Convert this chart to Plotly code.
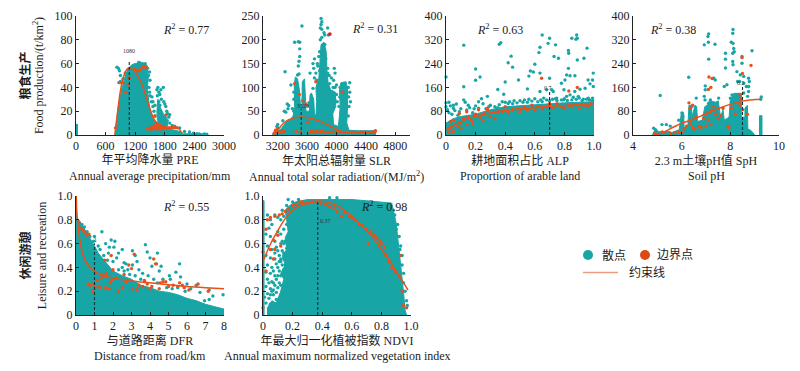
import plotly.graph_objects as go

TEAL = "#18a5a5"
ORANGE = "#e8501c"
DARK = "#12303a"
INK = "#1c1c1c"
FONT = "Liberation Serif, Noto Sans CJK SC, serif"

# ---------- Panel 1: PRE ----------
pre_area = [(790,0),(824,13),(858,24),(892,32),(960,43),(993,49),(1061,56),(1130,59),(1196,60),(1320,60),(1432,59),(1466,49),(1446,38),(1500,21),(1568,13),(1770,6),(2108,3),(2176,1),(2581,1),(2581,0),(790,0),None,
            (1650,12),(1640,20),(1660,30),(1700,24),(1770,18),(1840,14),(1860,8),(1800,6),(1650,6),None,
            (0,0),(0,9),(30,9),(30,0)]
pre_dots = [(830,57),(860,56),(880,54),(900,50),(950,47),(870,44),(900,45),(940,38),(1000,42),(1000,52),(1050,50),(1490,53),(1400,60),(1300,60.5),(1270,61),(1350,60),(1450,56),(1470,50),(1500,46),(1480,40),(1490,36),(1540,32),(1560,28),(1600,25),(1650,33),(1640,38),(1660,40),(1680,36),(1720,38),(1770,40),(1700,34),(1730,30),(1680,28),(1700,25),(1780,28),(1800,26),(1820,24),(1840,20),(1860,18),(1880,15),(1900,17),(1800,15),(1850,12),(1900,10),(1560,24),(1580,20),(1600,16),(1530,28),(1500,33),(1950,8),(2000,7.5),(2100,6),(2200,3),(2300,2.5),(2380,1.5),(2450,1),(2500,.8),(2600,.8),(2650,.6)]
pre_bound = [(800,6),(950,44),(900,44),(1000,36),(1060,42),(1080,48),(1300,55),(1350,57),(1400,57),(1430,57),(1200,55),(1250,54),(1600,16),(1830,17),(1450,5),(1480,5.5),(1500,5),(1520,6),(1550,5),(1580,6),(1600,5.5),(1620,7),(1650,5),(1680,6),(1700,8),(1720,5),(1750,6),(1780,7),(1800,5.5),(1830,6),(1860,6),(1900,6),(1950,6),(2000,6),(2050,6),(1550,7),(1620,9),(1660,9),(1700,6)]
pre_curve = [(790,0),(800,5),(830,15),(860,25),(900,37),(950,47),(1000,53),(1050,56),(1080,56.5),(1120,56),(1200,53),(1300,46),(1400,35),(1500,22),(1600,12),(1700,8),(1800,6.5),(1900,6.5),(2000,7),(2050,6.5),(2100,4.5),(2150,1.5)]

# ---------- Panel 2: SLR ----------
slr_area = [(3130,0),(3160,10),(3190,14),(3230,10),(3280,20),(3320,28),(3370,32),(3410,40),(3430,60),(3425,105),(3440,122),(3470,118),(3495,95),(3510,60),(3530,65),(3535,112),(3565,118),(3575,90),(3585,50),(3630,50),(3640,85),(3660,88),(3690,75),(3700,45),(3720,40),(3730,70),(3720,100),(3760,120),(3780,160),(3790,190),(3830,195),(3860,175),(3870,135),(3885,110),(3920,95),(3985,90),(3990,60),(3950,45),(3960,22),(4025,18),(4040,40),(4050,60),(4040,95),(4060,110),(4130,112),(4150,95),(4150,60),(4140,25),(4170,10),(4300,9),(4530,9),(4530,0)]
slr_dots = [(3790,245),(3800,238),(3790,232),(3800,222),(3780,225),(3880,225),(3840,210),(3890,210),(3830,215),(3530,229),(3430,195),(3480,196),(3500,195),(3500,181),(3500,165),(3490,155),(3480,145),(3490,128),(3470,126),(3300,133),(3380,105),(3740,150),(3700,160),(3680,150),(3640,130),(3690,140),(3720,130),(3760,165),(3770,175),(3780,200),(3830,150),(3880,140),(3900,125),(3930,120),(3960,115),(3980,100),(3880,130),(3980,130),(3970,140),(4000,105),(4000,85),(4010,70),(4050,100),(4180,110),(4180,90),(4190,70),(4170,60),(3290,50),(3310,48),(3340,55),(3330,65),(3350,62),(3400,55),(3420,50),(3270,30),(3200,22),(3190,18),(3700,120),(3730,115),(3610,62),(3560,66),(3680,98),(3625,68),(3750,105),(3770,135),(3840,190),(3855,160),(3745,145),(3800,205),(3905,108),(3955,100),(3975,75),(4045,80),(4035,60),(4160,100),(4165,80),(4160,40),(3420,75),(3420,90)]
slr_bound = [(3430,108),(3495,85),(3540,72),(3580,65),(3720,112),(4080,90),(3610,27),(3170,10),(3200,14),(3260,8),(3290,8),(3450,8),(3510,6),(3640,6),(3660,8),(3680,6),(3720,8),(3740,7),(3780,7),(3800,8),(3850,6),(3900,6),(3950,6),(4000,7),(4050,6),(4100,5),(4120,6),(4180,6),(4210,6),(4250,5),(4300,5),(4330,6),(4350,6),(4400,6),(4420,5),(4450,5),(4480,5),(4520,6),(4530,9),(3150,3),(3220,6)]
slr_peak = [(3910,212)]
slr_curve = [(3150,0),(3170,3),(3200,10),(3250,20),(3300,27),(3350,32),(3400,35),(3450,37),(3520,38),(3600,37),(3700,33),(3800,27),(3900,20),(4000,12),(4100,6),(4200,4),(4300,4),(4400,6),(4500,8),(4540,10)]

# ---------- Panel 3: ALP ----------
alp_area = [(0,0),(0,40),(.05,55),(.1,62),(.2,70),(.3,85),(.4,95),(.6,102),(.8,108),(1,112),(1,0)]
alp_dots = [(0,195),(.12,302),(.36,305),(.37,310),(.2,222),(.2,184),(.23,195),(.12,162),(.35,153),(.4,178),(.42,243),(.44,265),(.45,228),(.39,137),(.49,185),(.55,155),(.56,198),(.57,215),(.59,212),(.6,238),(.635,295),(.65,336),(.628,277),(.70,325),(.69,308),(.74,303),(.73,264),(.76,258),(.635,208),(.70,191),(.714,152),(.68,152),(.635,146),(.85,325),(.883,336),(.878,322),(.887,325),(.827,284),(.829,275),(.953,292),(.932,258),(.887,252),(.827,224),(.815,202),(.838,199),(.871,199),(.804,185),(.995,208),(.99,185),(.96,185),(.973,172),(.995,163),(.94,157),(.905,154),(.87,146),(.838,135),(.797,152),(.78,174),(.725,146),(.748,124),(.793,118),(.815,130),(.86,127),(.894,130),(.928,120),(.962,124),(.99,124),(.28,130),(.24,122),(.22,112),(.12,118),(.13,110),(.15,100),(.05,100),(.05,90),(.06,82),(0,108),(0,95),(.01,85),(.1,88),(.16,92),(.2,98),(.25,105),(.3,100),(.33,95),(.36,102),(.4,110),(.43,112),(.46,115),(.5,115),(.53,118),(.56,120),(.6,122),(.64,118),(.68,118),(.72,120),(.02,75),(.04,70),(.08,66),(.18,75),(.27,88),(.35,92),(.45,105),(.55,110),(.65,112),(.75,116),(.85,118),(.95,120),(.8,122),(.9,124),(.02,110),(.03,98),(.07,104),(.09,78),(.14,84),(.19,88),(.22,90),(.29,96),(.38,112),(.42,106),(.48,108),(.52,110),(.58,114),(.62,112),(.66,124),(.7,115),(.74,122),(.78,118),(.82,116),(.88,120),(.92,116),(.97,118),(.99,116)]
alp_bound = [(.02,10),(.03,25),(.05,12),(.05,50),(.08,30),(.1,40),(.1,22),(.12,55),(.14,35),(.15,60),(.17,50),(.18,38),(.2,70),(.22,85),(.23,60),(.25,48),(.26,72),(.28,85),(.3,62),(.33,55),(.35,78),(.38,80),(.4,95),(.42,75),(.45,85),(.48,88),(.5,78),(.53,92),(.55,85),(.58,100),(.6,82),(.62,95),(.65,88),(.68,95),(.7,105),(.72,90),(.75,105),(.78,95),(.8,90),(.83,100),(.85,95),(.88,102),(.9,90),(.93,100),(.96,95),(.98,105),(.646,191),(.83,148),(.887,160),(.28,90),(.14,78),(.09,72),(.03,45)]
alp_curve = [(0,18),(.05,32),(.1,44),(.15,55),(.2,63),(.3,74),(.4,82),(.5,88),(.6,92),(.7,96),(.8,99),(.9,102),(1,106)]

# ---------- Panel 4: SpH ----------
sph_area = [(4.8,0),(4.85,10),(4.95,20),(5.05,12),(5.2,10),(5.5,12),(5.6,8),(5.9,18),(5.98,70),(6.08,75),(6.1,25),(6.25,25),(6.3,100),(6.4,100),(6.42,60),(6.55,100),(6.62,95),(6.65,45),(6.85,50),(6.95,95),(7.05,100),(7.15,115),(7.4,110),(7.5,115),(7.6,60),(7.7,85),(7.75,50),(7.95,60),(8.0,120),(8.15,140),(8.45,140),(8.45,60),(8.6,60),(8.6,90),(8.7,100),(8.72,20),(8.85,15),(9,0),None,
            (9.2,0),(9.2,65),(9.3,65),(9.3,0)]
sph_dots = [(7.11,340),(7.08,331),(6.93,303),(7.1,312),(7.37,305),(7.11,255),(8.11,355),(8.1,342),(8.04,312),(8.11,308),(8.14,291),(7.8,275),(7.8,255),(8.1,275),(8.1,247),(7.8,225),(8.16,280),(8.11,236),(8.89,283),(6.29,194),(5.12,133),(7.32,191),(7.38,185),(7.75,163),(7.86,169),(6.97,165),(6.97,152),(6.93,130),(6.96,118),(6.6,124),(6.42,96),(8.48,264),(8.48,241),(8.27,213),(8.41,202),(8.55,197),(8.75,191),(8.78,180),(8.75,163),(8.3,180),(8.38,180),(8.55,174),(8.66,163),(8.75,146),(8.71,130),(8.55,141),(5.19,35),(5.37,35),(4.85,23),(4.92,18),(6.01,74),(6.05,62),(5.53,30),(5.88,50),(7.18,118),(7.52,124),(7.11,107),(8.0,124),(8.07,135),(9.25,120),(9.27,128)]
sph_bound = [(8.48,260),(8.85,234),(7.12,195),(7.25,190),(7.2,160),(7.1,153),(8.5,207),(8.4,135),(8.42,120),(6.3,108),(6.45,100),(6.35,90),(4.9,5),(5.0,3),(5.2,10),(5.3,8),(5.55,5),(5.7,8),(5.85,10),(6,8),(6.1,20),(6.2,30),(6.35,38),(6.45,25),(6.55,20),(6.7,30),(6.8,25),(6.9,55),(7,70),(7.1,50),(7.2,80),(7.3,95),(7.4,70),(7.5,55),(7.6,65),(7.7,90),(7.9,30),(7.95,25),(8.05,90),(8.2,70),(8.4,100),(8.5,85),(8.7,70),(7,30),(7.2,35),(6.6,60)]
sph_curve = [(4.9,0),(5,2),(5.2,7),(5.5,20),(5.8,32),(6,40),(6.3,48),(6.6,57),(6.9,68),(7.2,79),(7.5,89),(7.8,98),(8,103),(8.3,110),(8.5,114),(8.8,118),(9,119),(9.25,120)]

# ---------- Panel 5: DFR ----------
dfr_area = [(0,0),(0,1),(.02,1),(.04,.82),(.2,.79),(.4,.74),(.6,.68),(.8,.64),(1,.58),(1.2,.52),(1.5,.46),(2,.37),(2.5,.33),(3,.3),(3.5,.25),(4,.23),(4.5,.2),(5,.19),(5.5,.17),(6,.14),(6.5,.12),(7,.09),(7.5,.07),(8,.05),(8,0)]
dfr_dots = [(.32,.76),(.45,.74),(.6,.7),(.75,.66),(1,.66),(.95,.62),(1.4,.7),(1.2,.58),(1.3,.55),(1.6,.6),(1.75,.52),(1.9,.63),(2.05,.57),(2.1,.62),(2.5,.55),(2.3,.52),(1.8,.57),(1.5,.5),(2.2,.48),(1.7,.46),(2.0,.45),(2.6,.44),(2.7,.43),(3.05,.54),(3.2,.5),(3.3,.45),(3.05,.42),(3.75,.59),(3.85,.53),(4.4,.52),(4.0,.48),(4.1,.41),(4.35,.43),(4.5,.37),(4.6,.41),(5.05,.33),(5.6,.43),(5.65,.32),(5.4,.36),(5.1,.3),(3.4,.38),(3.6,.35),(3.9,.33),(2.8,.38),(2.5,.4),(2.3,.38),(4.7,.3),(4.2,.3),(4.4,.27),(3.2,.33),(3.5,.3),(6,.26),(6.2,.22),(6.7,.19),(6.5,.25),(7.2,.21),(7.2,.13),(7.4,.16),(7.95,.17),(6.95,.12),(5.9,.2),(5.5,.23),(5.2,.22),(2.9,.34),(2.6,.37),(3.7,.28),(4.9,.23)]
dfr_bound = [(.15,.78),(.25,.73),(.35,.72),(.45,.7),(.55,.68),(.6,.67),(.7,.68),(.65,.26),(.75,.25),(.9,.2),(.95,.26),(1,.23),(1.15,.29),(1.2,.24),(1.3,.23),(1.35,.31),(1.5,.33),(1.6,.23),(1.65,.35),(1.8,.22),(1.85,.27),(1.95,.29),(2,.38),(2.2,.31),(2.3,.2),(2.5,.23),(2.6,.34),(2.7,.28),(2.85,.42),(3,.39),(3.05,.22),(3.15,.51),(3.3,.21),(3.4,.25),(3.6,.24),(3.7,.29),(3.85,.26),(4,.22),(4.1,.24),(4.2,.47),(4.3,.43),(4.5,.22),(4.55,.27),(4.7,.28),(4.85,.28),(5,.24),(5.25,.25),(5.5,.24),(5.6,.27),(5.75,.25),(5.85,.23),(6.1,.21),(6.6,.26),(7.15,.2),(1.55,.46),(1.9,.5)]
dfr_curve = [(.02,1),(.05,.85),(.18,.66),(.3,.55),(.58,.435),(.97,.37),(1.5,.33),(2,.31),(3,.285),(4,.27),(5,.255),(6,.24),(7,.23),(8,.22)]

# ---------- Panel 6: NDVI ----------
ndvi_area = [(.03,0),(.03,.06),(.06,.12),(.09,.1),(.12,.2),(.14,.3),(.12,.35),(.15,.42),(.13,.5),(.16,.55),(.15,.65),(.17,.7),(.16,.8),(.15,.88),(.18,.92),(.22,.95),(.3,.97),(.4,.97),(.5,.97),(.6,.97),(.7,.96),(.8,.95),(.87,.94),(.9,.77),(.925,.49),(.948,.21),(.96,.04),(.97,0),None,
             (0,0),(0,.96),(.007,.96),(.007,0)]
ndvi_dots = [(.03,.84),(.05,.8),(.04,.73),(.06,.76),(.08,.84),(.1,.82),(.12,.8),(.14,.83),(.13,.88),(.02,.68),(.05,.66),(.08,.62),(.1,.7),(.12,.68),(.14,.72),(.16,.76),(.03,.58),(.06,.55),(.09,.57),(.12,.6),(.15,.62),(.13,.54),(.16,.56),(.02,.5),(.05,.48),(.08,.47),(.11,.5),(.14,.52),(.03,.42),(.06,.4),(.09,.43),(.12,.45),(.15,.42),(.02,.36),(.05,.35),(.08,.33),(.11,.37),(.14,.38),(.03,.3),(.06,.28),(.09,.3),(.12,.33),(.15,.34),(.02,.24),(.05,.22),(.08,.25),(.11,.27),(.03,.18),(.06,.2),(.01,.15),(.04,.14),(.07,.17),(.09,.13),(.11,.14),(.13,.2),(.14,.25),(.17,.15),(.16,.2),(.18,.12),(.19,.88),(.18,.9),(.16,.92),(.2,.95),(.24,.97),(.17,.97),(.5,.985),(.45,.985),(.85,.93),(.88,.88),(.89,.84),(.91,.76),(.9,.72),(.92,.66),(.93,.58),(.94,.5),(.925,.55),(.94,.42),(.95,.35),(.95,.27),(.96,.2),(.97,.12),(.975,.08),(.1,.4),(.07,.37),(.1,.33),(.13,.42),(.11,.45),(.08,.52),(.1,.54),(.12,.47),(.14,.47),(.13,.62),(.14,.6),(.15,.5),(.07,.27),(.1,.23),(.04,.27),(.07,.21),(.12,.25),(.09,.19),(.05,.17),(.02,.1),(.05,.09),(.08,.07)]
ndvi_bound = [(0,.06),(0,.53),(.02,.72),(.03,.8),(.05,.82),(.08,.83),(.11,.84),(.13,.85),(.15,.87),(.17,.89),(.2,.92),(.22,.93),(.25,.95),(.27,.95),(.3,.94),(.33,.95),(.36,.95),(.39,.94),(.42,.93),(.45,.91),(.48,.9),(.5,.87),(.53,.83),(.55,.86),(.58,.83),(.6,.82),(.62,.8),(.65,.76),(.67,.75),(.7,.72),(.71,.6),(.73,.7),(.75,.67),(.77,.65),(.79,.62),(.8,.6),(.82,.57),(.83,.5),(.85,.45),(.87,.4),(.89,.38),(.9,.36),(.92,.33),(.93,.5),(.94,.2),(.95,.08),(.97,.06),(.02,.37),(.07,.47),(.08,.55),(.05,.55),(.12,.58),(.07,.63),(.1,.67)]
ndvi_curve = [(0,.45),(.03,.54),(.06,.62),(.1,.71),(.15,.81),(.2,.88),(.25,.92),(.3,.94),(.37,.955),(.43,.95),(.5,.92),(.55,.88),(.6,.83),(.65,.77),(.7,.71),(.75,.64),(.8,.55),(.85,.47),(.9,.36),(.95,.27),(.98,.21)]

# ---------- thresholds and labels ----------
thresholds = {"pre": (1080, 63, "1080"), "slr": (3520, 55, "3520"), "alp": (.7, 150, "0.7"),
              "sph": (8.5, 170, "8.5"), "dfr": (1, .6, "1"), "ndvi": (.37, .95, "0.37")}
r2_labels = ["0.77", "0.31", "0.63", "0.38", "0.55", "0.98"]
x_ticks_pre = [0, 600, 1200, 1800, 2400, 3000]
x_ticks_slr = [3200, 3600, 4000, 4400, 4800]
x_ticks_frac = [0, .2, .4, .6, .8, 1]
x_text_frac = ["0", "0.2", "0.4", "0.6", "0.8", "1.0"]
x_ticks_sph = [4, 6, 8, 10]
x_ticks_dfr = [0, 1, 2, 3, 4, 5, 6, 7, 8]
y_ticks_100 = [0, 20, 40, 60, 80, 100]
y_ticks_250 = [0, 50, 100, 150, 200, 250]
y_ticks_400 = [0, 80, 160, 240, 320, 400]

BODY = 8                      # the page's default body margin
W, H = 800 - BODY, 371 - BODY


def px(v): return (v - BODY) / W
def py(v): return 1 - (v - BODY) / H


def xy(pts):
    xs = [p[0] if p else None for p in pts]
    ys = [p[1] if p else None for p in pts]
    return xs, ys


panels = [
    dict(key="pre", box=(76, 224, 16, 135), xr=(0, 3000), yr=(0, 100), xt=x_ticks_pre, xl=None, yt=y_ticks_100, yl=None,
         area=pre_area, dots=pre_dots, bound=pre_bound, curve=pre_curve, r2=(2230, 89),
         xtitle="年平均降水量 PRE", xsub="Annual average precipitation/mm",
         ytitle="Food production/(t/km<sup>2</sup>)", ysub="<b>粮食生产</b>", thr_lab=(1080, 71)),
    dict(key="slr", box=(263, 410, 16, 135), xr=(3000, 5000), yr=(0, 250), xt=x_ticks_slr, xl=None, yt=y_ticks_250, yl=None,
         area=slr_area, dots=slr_dots, bound=slr_bound, curve=slr_curve, r2=(4524, 223),
         xtitle="年太阳总辐射量 SLR", xsub="Annual total solar radiation/(MJ/m<sup>2</sup>)", ytitle=None, ysub=None, thr_lab=(3540, 61)),
    dict(key="alp", box=(446, 594, 16, 135), xr=(0, 1), yr=(0, 400), xt=x_ticks_frac, xl=x_text_frac, yt=y_ticks_400, yl=None,
         area=alp_area, dots=alp_dots, bound=alp_bound, curve=alp_curve, r2=(.365, 356),
         xtitle="耕地面积占比 ALP", xsub="Proportion of arable land", ytitle=None, ysub=None, thr_lab=(.69, 158)),
    dict(key="sph", box=(633, 779, 16, 135), xr=(4, 10), yr=(0, 400), xt=x_ticks_sph, xl=None, yt=y_ticks_400, yl=None,
         area=sph_area, dots=sph_dots, bound=sph_bound, curve=sph_curve, r2=(5.64, 356),
         xtitle="2.3 m土壤pH值 SpH", xsub="Soil pH", ytitle=None, ysub=None, thr_lab=(8.45, 175)),
    dict(key="dfr", box=(76, 224, 196, 315), xr=(0, 8), yr=(0, 1), xt=x_ticks_dfr, xl=None, yt=x_ticks_frac, yl=x_text_frac,
         area=dfr_area, dots=dfr_dots, bound=dfr_bound, curve=dfr_curve, r2=(5.95, .908),
         xtitle="与道路距离 DFR", xsub="Distance from road/km",
         ytitle="Leisure and recreation", ysub="<b>休闲游憩</b>", thr_lab=(1.03, .63)),
    dict(key="ndvi", box=(263, 411, 196, 315), xr=(0, 1), yr=(0, 1), xt=x_ticks_frac, xl=x_text_frac, yt=x_ticks_frac, yl=x_text_frac,
         area=ndvi_area, dots=ndvi_dots, bound=ndvi_bound, curve=ndvi_curve, r2=(.818, .908),
         xtitle="年最大归一化植被指数 NDVI", xsub="Annual maximum normalized vegetation index", ytitle=None, ysub=None, thr_lab=(.42, .79)),
]

fig = go.Figure()
layout = dict(width=W, height=H, margin=dict(l=0, r=0, t=0, b=0, autoexpand=False), paper_bgcolor="white", plot_bgcolor="rgba(0,0,0,0)",
              showlegend=False, font=dict(family=FONT, size=12, color=INK))
annotations = []
shapes = []

for i, p in enumerate(panels, start=1):
    xa, ya = f"x{i}", f"y{i}"
    x0, x1, y0, y1 = p["box"]
    ax_common = dict(showgrid=False, zeroline=False, showline=True, linecolor="#222", linewidth=1,
                     ticks="inside", ticklen=3, tickcolor="#222", tickwidth=1, automargin=False,
                     tickfont=dict(family=FONT, size=12, color=INK), tickmode="array")
    layout[f"xaxis{i}"] = dict(ax_common, domain=[px(x0), px(x1)], range=list(p["xr"]), anchor=ya,
                               tickvals=p["xt"], ticktext=p["xl"] or [str(v) for v in p["xt"]],
                               title=dict(text=p["xtitle"], standoff=2, font=dict(family=FONT, size=12, color=INK)))
    ydict = dict(ax_common, domain=[py(y1), py(y0)], range=list(p["yr"]), anchor=xa,
                 tickvals=p["yt"], ticktext=p["yl"] or [str(v) for v in p["yt"]])
    if p["ytitle"]:
        ydict["title"] = dict(text=p["ytitle"], standoff=8, font=dict(family=FONT, size=12, color=INK))
        annotations.append(dict(x=px(25), y=py((y0 + y1) / 2), xref="paper", yref="paper", xanchor="center", yanchor="middle",
                                showarrow=False, textangle=-90, text=p["ysub"], font=dict(family=FONT, size=12, color=INK)))
    layout[f"yaxis{i}"] = ydict
    annotations.append(dict(x=px((x0 + x1) / 2), y=py(y1 + 41), xref="paper", yref="paper", xanchor="center", yanchor="middle",
                            showarrow=False, text=p["xsub"], font=dict(family=FONT, size=12, color=INK)))

    ax, ay = xy(p["area"])
    fig.add_trace(go.Scatter(x=ax, y=ay, xaxis=xa, yaxis=ya, mode="lines", fill="toself", fillcolor=TEAL,
                             line=dict(color=TEAL, width=1), name="散点", hoverinfo="skip", cliponaxis=False))
    dx, dy = xy(p["dots"])
    fig.add_trace(go.Scatter(x=dx, y=dy, xaxis=xa, yaxis=ya, mode="markers", marker=dict(color=TEAL, size=3.4),
                             name="散点", cliponaxis=False))
    bx, by = xy(p["bound"])
    fig.add_trace(go.Scatter(x=bx, y=by, xaxis=xa, yaxis=ya, mode="markers", marker=dict(color=ORANGE, size=3.4),
                             name="边界点", cliponaxis=False))
    if p["key"] == "slr":
        sx, sy = xy(slr_peak)
        fig.add_trace(go.Scatter(x=sx, y=sy, xaxis=xa, yaxis=ya, mode="markers",
                                 marker=dict(color="#e32222", size=3.8), name="边界点", cliponaxis=False))
    cx, cy = xy(p["curve"])
    fig.add_trace(go.Scatter(x=cx, y=cy, xaxis=xa, yaxis=ya, mode="lines", line=dict(color=ORANGE, width=1.5, shape="spline"),
                             name="约束线", cliponaxis=False))
    tx, ty, tl = thresholds[p["key"]]
    fig.add_trace(go.Scatter(x=[tx, tx], y=[0, ty], xaxis=xa, yaxis=ya, mode="lines",
                             line=dict(color=DARK, width=1.1, dash="3px,2px"), name="阈值"))
    annotations.append(dict(x=p["thr_lab"][0], y=p["thr_lab"][1], xref=xa, yref=ya, text=tl, showarrow=False,
                            font=dict(family=FONT, size=6, color="#333")))
    rx, ry = p["r2"]
    annotations.append(dict(x=rx, y=ry, xref=xa, yref=ya, showarrow=False,
                            text=f"<i>R</i><sup>2</sup> = {r2_labels[i-1]}", font=dict(family=FONT, size=12, color=INK)))

# hand-drawn key, as in the reference
for cxp, col in ((588, TEAL), (645, "#dd4a14")):
    shapes.append(dict(type="circle", xref="paper", yref="paper", x0=px(cxp - 5), x1=px(cxp + 5), y0=py(260), y1=py(250),
                       fillcolor=col, line=dict(width=0)))
shapes.append(dict(type="line", xref="paper", yref="paper", x0=px(583), x1=px(618), y0=py(272.5), y1=py(272.5),
                   line=dict(color="#ee9a7c", width=1.5)))
for xp, yp, t in ((600, 255, "散点"), (655, 255, "边界点"), (627, 272, "约束线")):
    annotations.append(dict(x=px(xp), y=py(yp), xref="paper", yref="paper", xanchor="left", yanchor="middle", showarrow=False,
                            text=t, font=dict(family=FONT, size=12, color=INK)))

layout["annotations"] = annotations
layout["shapes"] = shapes
fig.update_layout(**layout)
fig.write_html("out.html")
